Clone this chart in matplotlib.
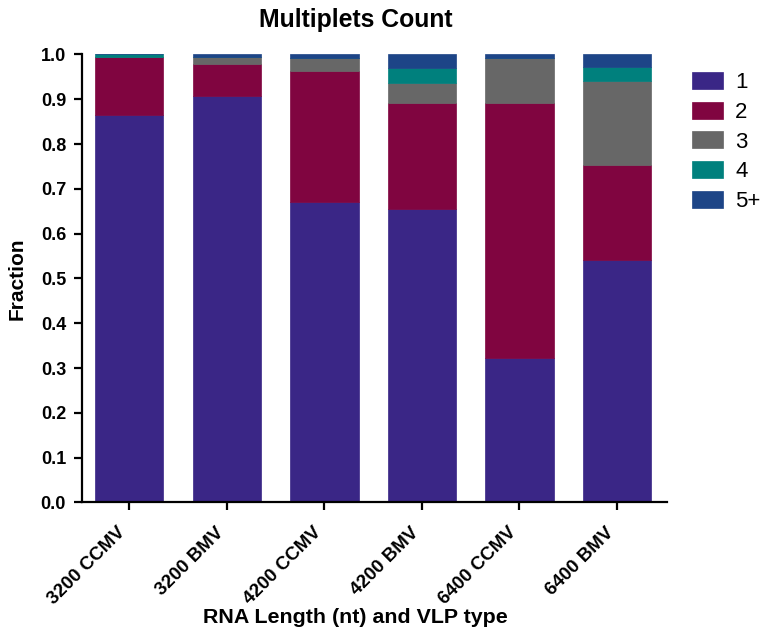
import matplotlib
matplotlib.use("Agg")
import matplotlib.pyplot as plt
import matplotlib.patches as mpatches
import matplotlib.transforms as mtransforms
from matplotlib.legend_handler import HandlerPatch
import numpy as np

plt.rcParams['font.family'] = ['Liberation Sans', 'DejaVu Sans']

categories = ["3200 CCMV", "3200 BMV", "4200 CCMV", "4200 BMV", "6400 CCMV", "6400 BMV"]
series_labels = ["1", "2", "3", "4", "5+"]

frac_1 = [0.864, 0.907, 0.670, 0.654, 0.322, 0.542]
frac_2 = [0.130, 0.072, 0.293, 0.237, 0.570, 0.211]
frac_3 = [0.000, 0.016, 0.030, 0.045, 0.100, 0.188]
frac_4 = [0.006, 0.000, 0.000, 0.033, 0.000, 0.032]
frac_5 = [0.000, 0.005, 0.007, 0.031, 0.008, 0.027]

colors = ["#3A2686", "#800540", "#676767", "#00807D", "#1D4587"]


class RoundedSwatch(HandlerPatch):
    """Legend swatch drawn as a small rounded rectangle."""
    def create_artists(self, legend, orig_handle, xdescent, ydescent,
                       width, height, fontsize, trans):
        r = 0.12 * height
        p = mpatches.FancyBboxPatch((-xdescent + r, -ydescent + r),
                                    width - 2 * r, height - 2 * r,
                                    boxstyle=f"round,pad={r}",
                                    facecolor=orig_handle.get_facecolor(),
                                    edgecolor="none", transform=trans)
        return [p]


fig = plt.figure(figsize=(7.62, 6.35), dpi=100)
ax = fig.add_axes([0.1076, 0.2087, 0.7674, 0.7055])

x = np.arange(len(categories))
bottom = np.zeros(len(categories))
for vals, col, lab in zip([frac_1, frac_2, frac_3, frac_4, frac_5], colors, series_labels):
    ax.bar(x, vals, width=0.70, bottom=bottom, color=col, label=lab,
           edgecolor=col, linewidth=0.5)
    bottom += np.array(vals)

ax.set_xlim(-0.485, 5.51)
ax.set_ylim(0, 1.0)
yt = np.arange(0, 1.01, 0.1)
ax.set_yticks(yt)
ax.set_yticklabels([f"{v:.1f}" for v in yt], fontsize=13, fontweight="bold")
ax.set_xticks(x)
ax.set_xticklabels(categories, rotation=45, ha="right", fontsize=13.5, fontweight="bold")

# nudge the rotated category labels so their right end sits under the tick
nudge = mtransforms.ScaledTranslation(0.08, 0, fig.dpi_scale_trans)
for lbl in ax.get_xticklabels():
    lbl.set_transform(lbl.get_transform() + nudge)

for s in ["top", "right"]:
    ax.spines[s].set_visible(False)
for s in ["left", "bottom"]:
    ax.spines[s].set_linewidth(1.6)

ax.tick_params(axis="both", direction="out", width=1.6, length=6)
ax.tick_params(axis="y", pad=5.5)
ax.tick_params(axis="x", pad=9.5)

ax.set_title("Multiplets Count", fontsize=17.8, fontweight="bold", pad=20, x=0.4675)
ax.set_ylabel("Fraction", fontsize=15, fontweight="bold", labelpad=10)
ax.set_xlabel("RNA Length (nt) and VLP type", fontsize=15.4, fontweight="bold")
ax.xaxis.set_label_coords(0.4675, -0.2355)

leg = ax.legend(loc="upper left", bbox_to_anchor=(1.043, 0.961), frameon=False,
                fontsize=16, handlelength=1.4, handleheight=0.8,
                labelspacing=0.38, handletextpad=0.55,
                borderpad=0, borderaxespad=0,
                handler_map={mpatches.Rectangle: RoundedSwatch()})

fig.savefig("out.png", dpi=100)
